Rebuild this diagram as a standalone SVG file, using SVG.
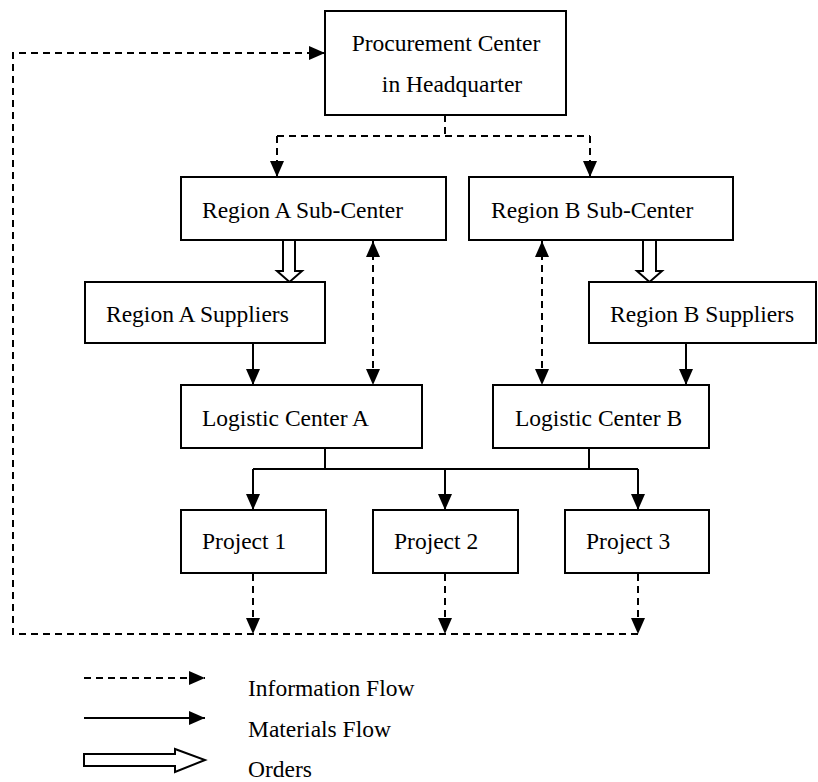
<svg xmlns="http://www.w3.org/2000/svg" width="818" height="782" viewBox="0 0 818 782">
<style>
.box{fill:#fff;stroke:#000;stroke-width:2}
.t{font-family:"Liberation Serif","Times New Roman",serif;font-size:23.5px;fill:#000}
.solid{fill:none;stroke:#000;stroke-width:2}
.dash{fill:none;stroke:#000;stroke-width:2;stroke-dasharray:7 5}
.hollow{fill:#fff;stroke:#000;stroke-width:2;stroke-linejoin:miter}
</style>
<defs>
<marker id="ah" viewBox="0 0 16 14" refX="16" refY="7" markerWidth="16" markerHeight="14" markerUnits="userSpaceOnUse" orient="auto-start-reverse">
<path d="M0,0 L16,7 L0,14 z" fill="#000"/>
</marker>
</defs>
<rect width="818" height="782" fill="#fff"/>
<g id="connectors">
<path class="dash" d="M445,115 V136 M277,136 H590"/>
<path class="dash" d="M277,136 V177" marker-end="url(#ah)"/>
<path class="dash" d="M590,136 V177" marker-end="url(#ah)"/>
<path class="hollow" d="M283,240 V271 H277 L289.5,282 L302,271 H295 V240"/>
<path class="hollow" d="M643,240 V271 H637 L649.5,282 L662,271 H656 V240"/>
<path class="dash" d="M373,241 V385" marker-start="url(#ah)" marker-end="url(#ah)"/>
<path class="dash" d="M542,241 V385" marker-start="url(#ah)" marker-end="url(#ah)"/>
<path class="solid" d="M253,343 V385" marker-end="url(#ah)"/>
<path class="solid" d="M686,343 V385" marker-end="url(#ah)"/>
<path class="solid" d="M325,448 V469 M589,448 V469 M253,469 H638"/>
<path class="solid" d="M253,469 V510" marker-end="url(#ah)"/>
<path class="solid" d="M445,469 V510" marker-end="url(#ah)"/>
<path class="solid" d="M638,469 V510" marker-end="url(#ah)"/>
<path class="dash" d="M253,574 V634" marker-end="url(#ah)"/>
<path class="dash" d="M445,574 V634" marker-end="url(#ah)"/>
<path class="dash" d="M638,574 V634" marker-end="url(#ah)"/>
<path class="dash" d="M638,634 H13 V53 H325" marker-end="url(#ah)"/>
</g>
<g id="hq"><rect class="box" x="325" y="11" width="241" height="104"/>
<text class="t" x="446" y="51" text-anchor="middle">Procurement Center</text>
<text class="t" x="452" y="92" text-anchor="middle">in Headquarter</text></g>
<g id="subA"><rect class="box" x="181" y="177" width="265" height="63"/><text class="t" x="202" y="218">Region A Sub-Center</text></g>
<g id="subB"><rect class="box" x="469" y="177" width="264" height="63"/><text class="t" x="491" y="218">Region B Sub-Center</text></g>
<g id="supA"><rect class="box" x="85" y="282" width="240" height="61"/><text class="t" x="106" y="322">Region A Suppliers</text></g>
<g id="supB"><rect class="box" x="589" y="282" width="227" height="61"/><text class="t" x="610" y="322">Region B Suppliers</text></g>
<g id="lcA"><rect class="box" x="181" y="385" width="241" height="63"/><text class="t" x="202" y="426">Logistic Center A</text></g>
<g id="lcB"><rect class="box" x="493" y="385" width="216" height="63"/><text class="t" x="515" y="426">Logistic Center B</text></g>
<g id="p1"><rect class="box" x="181" y="510" width="145" height="63"/><text class="t" x="202" y="549">Project 1</text></g>
<g id="p2"><rect class="box" x="373" y="510" width="145" height="63"/><text class="t" x="394" y="549">Project 2</text></g>
<g id="p3"><rect class="box" x="565" y="510" width="144" height="63"/><text class="t" x="586" y="549">Project 3</text></g>
<g id="legend">
<path class="dash" d="M84,678 H205" marker-end="url(#ah)"/>
<path class="solid" d="M84,718 H205" marker-end="url(#ah)"/>
<path class="hollow" d="M84,754 H175 V749 L205,760 L175,772 V766 H84 Z"/>
<text class="t" x="248" y="696">Information Flow</text>
<text class="t" x="248" y="737">Materials Flow</text>
<text class="t" x="248" y="777">Orders</text>
</g>
</svg>
